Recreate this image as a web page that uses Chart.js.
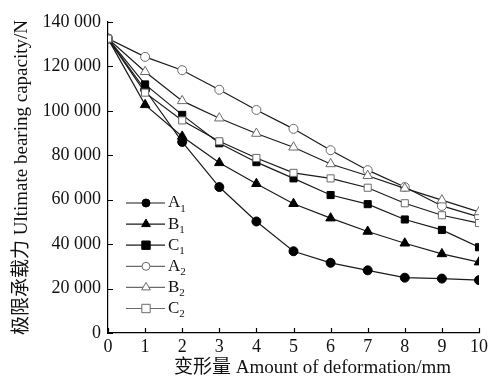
<!DOCTYPE html>
<html>
<head>
<meta charset="utf-8">
<script src="https://cdn.jsdelivr.net/npm/chart.js@4/dist/chart.umd.min.js"></script>
<style>
  html, body { margin: 0; padding: 0; background: #fff; }
</style>
</head>
<body>
<canvas id="chart" width="497" height="389"></canvas>
<script>
// deformation (mm) and ultimate bearing capacity (N)
const deformation = [0, 1, 2, 3, 4, 5, 6, 7, 8, 9, 10];
const seriesA1 = [132500, 109500, 86000, 65700, 50200, 36800, 31600, 28200, 24900, 24500, 23800];
const seriesB1 = [132500, 102700, 88500, 76600, 67200, 58200, 51700, 45700, 40400, 35600, 31900];
const seriesC1 = [132500, 111900, 98200, 85400, 76900, 69600, 62100, 58000, 51100, 46400, 38600];
const seriesA2 = [132500, 124300, 118300, 109500, 100400, 91900, 82300, 73300, 65700, 57200, 52300];
const seriesB2 = [132500, 117600, 104500, 96700, 89800, 83600, 76100, 70800, 65100, 59800, 54500];
const seriesC2 = [132500, 108200, 95700, 86300, 78800, 72100, 69600, 65400, 58400, 53000, 49500];
const seriesNames = ['A1', 'B1', 'C1', 'A2', 'B2', 'C2'];
const yTicks = [0, 20000, 40000, 60000, 80000, 100000, 120000, 140000];
const xTicks = [0, 1, 2, 3, 4, 5, 6, 7, 8, 9, 10];

const serif = '"Liberation Serif", "Times New Roman", serif';
const titleFont = '"Liberation Serif", "Noto Sans CJK SC", serif';
const openGray = '#6a6a6a';

function pts(vals) {
  return vals.map((v, i) => ({ x: deformation[i], y: v }));
}

function fmt(v) {
  return String(v).replace(/\B(?=(\d{3})+(?!\d))/g, ' ');
}

const styles = [
  { shape: 'circle', filled: true, r: 4.5 },
  { shape: 'triangle', filled: true, r: 5.5 },
  { shape: 'rect', filled: true, r: 5 },
  { shape: 'circle', filled: false, r: 4.5 },
  { shape: 'triangle', filled: false, r: 5.5 },
  { shape: 'rect', filled: false, r: 5 }
];
const allSeries = [seriesA1, seriesB1, seriesC1, seriesA2, seriesB2, seriesC2];

const datasets = allSeries.map((vals, i) => ({
  label: seriesNames[i],
  data: pts(vals),
  borderColor: '#1a1a1a',
  borderWidth: 1.2,
  pointStyle: styles[i].shape,
  pointRadius: styles[i].r,
  pointBackgroundColor: styles[i].filled ? '#000' : '#fff',
  pointBorderColor: styles[i].filled ? '#000' : openGray,
  pointBorderWidth: 1,
  tension: 0,
  fill: false,
  order: 6 - i
}));

// inward tick marks on both axes
const innerTicks = {
  id: 'innerTicks',
  afterDraw(chart) {
    const ctx = chart.ctx;
    const x = chart.scales.x, y = chart.scales.y;
    const a = chart.chartArea;
    ctx.save();
    ctx.strokeStyle = '#000';
    ctx.lineWidth = 1.2;
    ctx.beginPath();
    xTicks.forEach(t => {
      const px = Math.round(x.getPixelForValue(t)) + 0.5;
      ctx.moveTo(px, a.bottom);
      ctx.lineTo(px, a.bottom - 5);
    });
    yTicks.forEach(t => {
      const py = Math.round(y.getPixelForValue(t)) + 0.5;
      ctx.moveTo(a.left, py);
      ctx.lineTo(a.left + 5, py);
    });
    ctx.stroke();
    ctx.restore();
  }
};

// legend with line + marker and subscripted labels
const lineLegend = {
  id: 'lineLegend',
  afterDatasetsDraw(chart) {
    const ctx = chart.ctx;
    const a = chart.chartArea;
    const x0 = a.left + 18, x1 = a.left + 57, xm = a.left + 38;
    const yStart = 203, gap = 21.1;
    ctx.save();
    datasets.forEach((ds, i) => {
      const yy = yStart + i * gap;
      const st = styles[i];
      ctx.strokeStyle = st.filled ? '#1a1a1a' : openGray;
      ctx.lineWidth = 1.2;
      ctx.beginPath();
      ctx.moveTo(x0, yy);
      ctx.lineTo(x1, yy);
      ctx.stroke();
      ctx.lineWidth = 1;
      ctx.fillStyle = st.filled ? '#000' : '#fff';
      ctx.strokeStyle = st.filled ? '#000' : openGray;
      ctx.beginPath();
      if (st.shape === 'circle') {
        ctx.arc(xm, yy, st.r - 0.5, 0, Math.PI * 2);
      } else if (st.shape === 'rect') {
        const s = st.r - 0.8;
        ctx.rect(xm - s, yy - s, 2 * s, 2 * s);
      } else {
        const s = st.r - 0.5;
        ctx.moveTo(xm, yy - s);
        ctx.lineTo(xm + s * 0.87, yy + s * 0.5);
        ctx.lineTo(xm - s * 0.87, yy + s * 0.5);
        ctx.closePath();
      }
      ctx.fill();
      ctx.stroke();
      ctx.fillStyle = '#111';
      ctx.textBaseline = 'middle';
      ctx.textAlign = 'left';
      ctx.font = '17px ' + serif;
      const letter = ds.label[0];
      ctx.fillText(letter, x1 + 3, yy);
      const w = ctx.measureText(letter).width;
      ctx.font = '11px ' + serif;
      ctx.fillText(ds.label.slice(1), x1 + 3 + w, yy + 6);
    });
    ctx.restore();
  }
};

new Chart(document.getElementById('chart').getContext('2d'), {
  type: 'line',
  data: { datasets: datasets },
  options: {
    responsive: false,
    animation: false,
    layout: { padding: { left: 0, right: 18, top: 22, bottom: 0 } },
    plugins: { legend: { display: false }, tooltip: { enabled: false } },
    scales: {
      x: {
        type: 'linear',
        min: 0,
        max: 10,
        afterFit: s => { s.height = 56; },
        afterBuildTicks: s => { s.ticks = xTicks.map(v => ({ value: v })); },
        grid: { display: false, drawTicks: false, tickLength: 0 },
        border: { display: true, color: '#000', width: 1.2 },
        ticks: { color: '#111', padding: 3, font: { family: serif, size: 18 }, maxRotation: 0 },
        title: {
          display: true,
          text: '\u2003\u2003变形量 Amount of deformation/mm',
          color: '#111',
          padding: 10,
          font: { family: titleFont, size: 19 }
        }
      },
      y: {
        min: 0,
        max: 140000,
        afterFit: s => { s.width = 108; },
        afterBuildTicks: s => { s.ticks = yTicks.map(v => ({ value: v })); },
        grid: { display: false, drawTicks: false, tickLength: 0 },
        border: { display: true, color: '#000', width: 1.2 },
        ticks: { color: '#111', padding: 7, font: { family: serif, size: 18 }, callback: v => fmt(v) },
        title: {
          display: true,
          text: '极限承载力 Ultimate bearing capacity/N',
          color: '#111',
          padding: 11,
          font: { family: titleFont, size: 19 }
        }
      }
    }
  },
  plugins: [innerTicks, lineLegend]
});
</script>
</body>
</html>
